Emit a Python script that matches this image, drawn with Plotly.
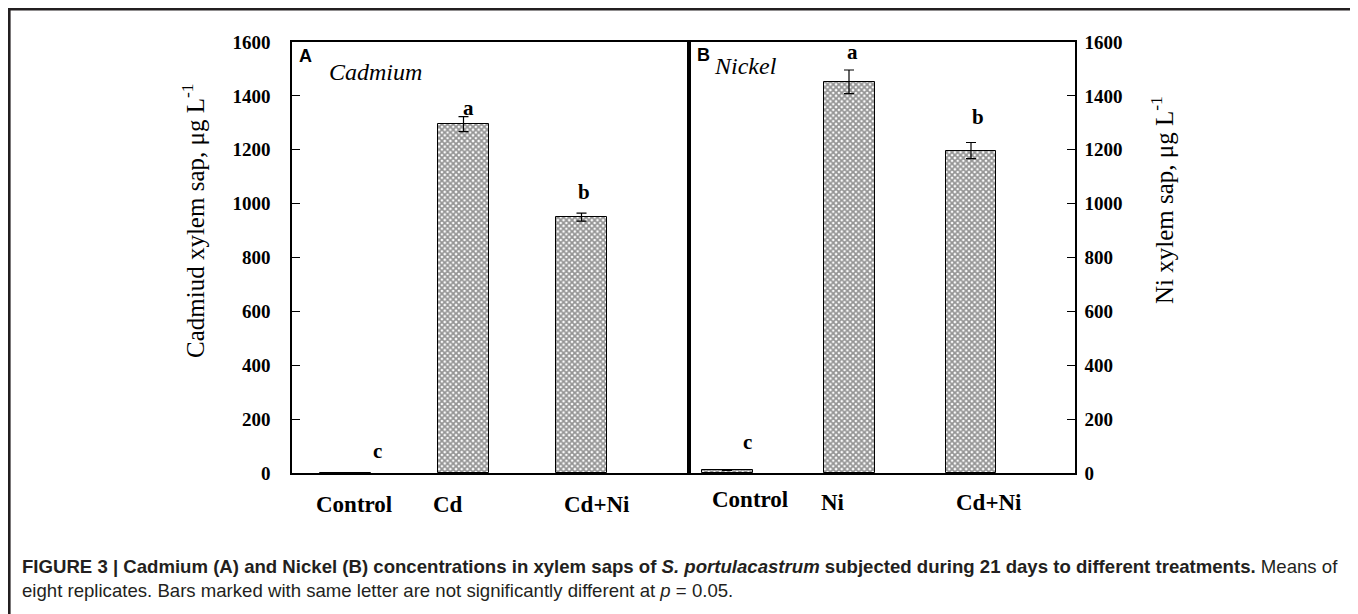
import plotly.graph_objects as go

# ---------------- data ----------------
categories_a = ["Control", "Cd", "Cd+Ni"]
values_a = [0, 1295, 950]
errors_a = [0, 28, 15]
letters_a = ["c", "a", "b"]

categories_b = ["Control", "Ni", "Cd+Ni"]
values_b = [10, 1452, 1197]
errors_b = [0, 44, 30]
letters_b = ["c", "a", "b"]

y_ticks = [0, 200, 400, 600, 800, 1000, 1200, 1400, 1600]

# ---------------- layout helpers ----------------
# the page body has an 8px margin, so the figure is drawn 8px right/down
OFF = 8
W, H = 1358 - OFF, 614 - OFF
def px(x):
    return (x - OFF) / W
def py(y):
    return 1 - (y - OFF) / H

SERIF = "Liberation Serif"
SANS = "Liberation Sans"
pattern = dict(shape="x", size=4, solidity=0.7, fgcolor="#2a2a2a", bgcolor="white")

fig = go.Figure()

fig.add_trace(go.Bar(
    x=categories_a, y=values_a, width=0.432, xaxis="x", yaxis="y",
    marker=dict(color="white", line=dict(color="black", width=1), pattern=pattern),
    error_y=dict(type="data", array=errors_a, visible=True, color="black",
                 thickness=1.2, width=5),
    showlegend=False, hoverinfo="skip",
))
fig.add_trace(go.Bar(
    x=categories_b, y=values_b, width=0.418, xaxis="x2", yaxis="y2",
    marker=dict(color="white", line=dict(color="black", width=1), pattern=pattern),
    error_y=dict(type="data", array=errors_b, visible=True, color="black",
                 thickness=1.2, width=5),
    showlegend=False, hoverinfo="skip",
))

axis_common = dict(showline=True, linecolor="black", linewidth=1.5, mirror=True,
                   showgrid=False, zeroline=False)

fig.update_layout(
    width=W, height=H,
    margin=dict(l=0, r=0, t=0, b=0, autoexpand=False),
    paper_bgcolor="white", plot_bgcolor="white",
    bargap=0,
    xaxis=dict(domain=[px(292), px(689)], anchor="y", type="category",
               range=[-0.4534, 2.911], showticklabels=False, ticks="", **axis_common),
    xaxis2=dict(domain=[px(689), px(1075)], anchor="y2", type="category",
                range=[-0.3115, 2.8525], showticklabels=False, ticks="", **axis_common),
    yaxis=dict(domain=[py(473), py(42)], anchor="x", side="left", range=[0, 1600],
               tickvals=y_ticks, ticks="inside", ticklen=8, tickcolor="black",
               tickfont=dict(family=SERIF, size=19, color="black", weight="bold"),
               ticklabelstandoff=16, **axis_common),
    yaxis2=dict(domain=[py(473), py(42)], anchor="x2", side="right", range=[0, 1600],
                tickvals=y_ticks, ticks="inside", ticklen=8, tickcolor="black",
                tickfont=dict(family=SERIF, size=19, color="black", weight="bold"),
                ticklabelstandoff=4, **axis_common),
)

ann = []
def paper_text(x, y, text, font, **kw):
    d = dict(x=px(x), y=py(y), xref="paper", yref="paper", text=text, showarrow=False,
             xanchor="center", yanchor="middle", font=font)
    d.update(kw)
    ann.append(d)

# panel letters and metal names
paper_text(305, 55.5, "<b>A</b>", dict(family=SANS, size=18, color="black"))
paper_text(375, 71.5, "<i>Cadmium</i>", dict(family=SERIF, size=24, color="black"))
paper_text(703.5, 55, "<b>B</b>", dict(family=SANS, size=18, color="black"))
paper_text(745, 66.5, "<i>Nickel</i>", dict(family=SERIF, size=24, color="black"))

# y-axis titles
paper_text(193, 221, "Cadmiud xylem sap, μg L<sup>-1</sup>",
           dict(family=SERIF, size=25, color="black"), textangle=-90)
paper_text(1162, 200, "Ni xylem sap, μg L<sup>-1</sup>",
           dict(family=SERIF, size=25, color="black"), textangle=-90)

# category labels (placed as in the original figure)
label_shift_a = [8, -16, 15]
label_shift_b = [23, -16, 18]
label_y_a = [504, 504, 504]
label_y_b = [499, 503, 503]
for c, s, yy in zip(categories_a, label_shift_a, label_y_a):
    ann.append(dict(x=c, xref="x", y=py(yy), yref="paper", xshift=s, text=f"<b>{c}</b>",
                    xanchor="center", yanchor="middle",
                    showarrow=False, font=dict(family=SERIF, size=23, color="black")))
for c, s, yy in zip(categories_b, label_shift_b, label_y_b):
    ann.append(dict(x=c, xref="x2", y=py(yy), yref="paper", xshift=s, text=f"<b>{c}</b>",
                    xanchor="center", yanchor="middle",
                    showarrow=False, font=dict(family=SERIF, size=23, color="black")))

# significance letters
letter_dx_a, letter_dy_a = [32, 5, 2], [22, 9, 21]
letter_dx_b, letter_dy_b = [20, 3, 7], [28, 18, 25]
for c, v, e, l, dx, dy in zip(categories_a, values_a, errors_a, letters_a, letter_dx_a, letter_dy_a):
    ann.append(dict(x=c, xref="x", y=v + e, yref="y", xshift=dx, yshift=dy, text=f"<b>{l}</b>",
                    xanchor="center", yanchor="middle",
                    showarrow=False, font=dict(family=SERIF, size=21, color="black")))
for c, v, e, l, dx, dy in zip(categories_b, values_b, errors_b, letters_b, letter_dx_b, letter_dy_b):
    ann.append(dict(x=c, xref="x2", y=v + e, yref="y2", xshift=dx, yshift=dy, text=f"<b>{l}</b>",
                    xanchor="center", yanchor="middle",
                    showarrow=False, font=dict(family=SERIF, size=21, color="black")))

# caption
cap1 = ("<b>FIGURE 3 | Cadmium (A) and Nickel (B) concentrations in xylem saps of "
        "<i>S. portulacastrum</i> subjected during 21 days to different treatments.</b> Means of")
cap2 = ("eight replicates. Bars marked with same letter are not significantly different at "
        "<i>p</i> = 0.05.")
paper_text(20, 566, cap1, dict(family=SANS, size=18.6, color="#231f20"), xanchor="left")
paper_text(20, 590, cap2, dict(family=SANS, size=18.6, color="#231f20"), xanchor="left")

fig.update_layout(annotations=ann)

# outer frame of the figure panel
fig.add_shape(type="path", xref="paper", yref="paper",
              path=f"M {px(9.3)},{py(700)} L {px(9.3)},{py(9.3)} L {px(1356.3)},{py(9.3)} L {px(1356.3)},{py(700)}",
              line=dict(color="#231f20", width=2.6))

fig.write_html("out.html")
